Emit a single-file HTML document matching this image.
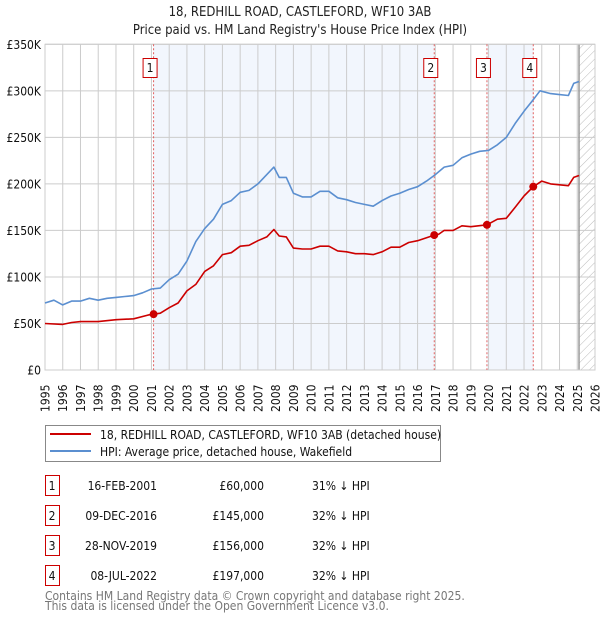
<!DOCTYPE html>
<html><head><meta charset="utf-8">
<style>
body{margin:0;background:#fff;font-family:"DejaVu Sans Condensed","DejaVu Sans","Liberation Sans",sans-serif;}
svg text{font-family:"DejaVu Sans Condensed","DejaVu Sans","Liberation Sans",sans-serif;font-stretch:condensed;}
</style></head>
<body>
<svg id="chart" width="600" height="620" viewBox="0 0 600 620" xmlns="http://www.w3.org/2000/svg">
<defs>
<pattern id="hatch" width="6" height="6" patternUnits="userSpaceOnUse" patternTransform="rotate(45)">
<line x1="0" y1="0" x2="0" y2="6" stroke="#bbb" stroke-width="1"/>
</pattern>
</defs>
<text x="300" y="16" text-anchor="middle" font-size="13" fill="#222">18, REDHILL ROAD, CASTLEFORD, WF10 3AB</text>
<text x="300" y="34" text-anchor="middle" font-size="13" fill="#222">Price paid vs. HM Land Registry's House Price Index (HPI)</text>
<g id="plot"></g>
<g id="legend">
<rect x="45.5" y="425.5" width="395" height="36" fill="#fff" stroke="#888"/>
<line x1="50" y1="434" x2="91" y2="434" stroke="#cc0000" stroke-width="2"/>
<text x="100" y="439" font-size="12" fill="#111">18, REDHILL ROAD, CASTLEFORD, WF10 3AB (detached house)</text>
<line x1="50" y1="451" x2="91" y2="451" stroke="#5b8fd0" stroke-width="2"/>
<text x="100" y="456" font-size="12" fill="#111">HPI: Average price, detached house, Wakefield</text>
</g>
<g id="table"></g>
<text x="45" y="600" font-size="12" fill="#777">Contains HM Land Registry data © Crown copyright and database right 2025.</text>
<text x="45" y="610" font-size="12" fill="#777">This data is licensed under the Open Government Licence v3.0.</text>
</svg>
<script>
const hpiYears=[1995,1995.5,1996,1996.5,1997,1997.5,1998,1998.5,1999,1999.5,2000,2000.5,2001,2001.5,2002,2002.5,2003,2003.5,2004,2004.5,2005,2005.5,2006,2006.5,2007,2007.5,2007.9,2008.2,2008.6,2009,2009.5,2010,2010.5,2011,2011.5,2012,2012.5,2013,2013.5,2014,2014.5,2015,2015.5,2016,2016.5,2017,2017.5,2018,2018.5,2019,2019.5,2020,2020.5,2021,2021.5,2022,2022.5,2022.9,2023.5,2024,2024.5,2024.8,2025.1];
const hpiValues=[72,75,70,74,74,77,75,77,78,79,80,83,87,88,97,103,117,138,152,162,178,182,191,193,200,210,218,207,207,190,186,186,192,192,185,183,180,178,176,182,187,190,194,197,203,210,218,220,228,232,235,236,242,250,265,278,290,300,297,296,295,308,310];
const propYears=[1995,1996,1996.5,1997,1998,1999,2000,2000.8,2001.12,2001.5,2002,2002.5,2003,2003.5,2004,2004.5,2005,2005.5,2006,2006.5,2007,2007.5,2007.9,2008.2,2008.6,2009,2009.5,2010,2010.5,2011,2011.5,2012,2012.5,2013,2013.5,2014,2014.5,2015,2015.5,2016,2016.94,2017.2,2017.5,2018,2018.5,2019,2019.91,2020.5,2021,2021.5,2022,2022.52,2023,2023.5,2024,2024.5,2024.8,2025.1];
const propValues=[50,49,51,52,52,54,55,59,60,61,67,72,85,92,106,112,124,126,133,134,139,143,151,144,143,131,130,130,133,133,128,127,125,125,124,127,132,132,137,139,145,146,150,150,155,154,156,162,163,175,187,197,203,200,199,198,207,209];
const saleLabels=["1","2","3","4"];
const saleYears=[2001.12,2016.94,2019.91,2022.52];
const saleValues=[60,145,156,197];
const saleDates=["16-FEB-2001","09-DEC-2016","28-NOV-2019","08-JUL-2022"];
const salePrices=["£60,000","£145,000","£156,000","£197,000"];
const saleDiffs=["31% ↓ HPI","32% ↓ HPI","32% ↓ HPI","32% ↓ HPI"];
const yTicks=[0,50,100,150,200,250,300,350];
const yTickLabels=["£0","£50K","£100K","£150K","£200K","£250K","£300K","£350K"];
const xTicks=[1995,1996,1997,1998,1999,2000,2001,2002,2003,2004,2005,2006,2007,2008,2009,2010,2011,2012,2013,2014,2015,2016,2017,2018,2019,2020,2021,2022,2023,2024,2025,2026];
const dataEnd=2025.1;

const NS="http://www.w3.org/2000/svg";
const L=45,R=595,T=44.3,B=370;
const x=y=>L+(y-1995)/(2026-1995)*(R-L);
const yv=v=>B-v/350*(B-T);
const plot=document.getElementById('plot');
function mk(tag,attrs,parent){const e=document.createElementNS(NS,tag);for(const k in attrs)e.setAttribute(k,attrs[k]);(parent||plot).appendChild(e);return e;}

for(let i=0;i<saleYears.length;i+=2){
  const x1=x(saleYears[i]),x2=i+1<saleYears.length?x(saleYears[i+1]):R;
  const b=mk('rect',{x:x1,y:T,width:x2-x1,height:B-T,fill:'#eef3fc',opacity:0.75});
  
  
}
const h=mk('rect',{x:x(dataEnd),y:T,width:R-x(dataEnd),height:B-T,fill:'url(#hatch)'});


xTicks.forEach(t=>{const g=mk('line',{x1:x(t),x2:x(t),y1:T,y2:B,stroke:'#ccc','stroke-width':1});


const lb=mk('text',{x:0,y:0,transform:`translate(${x(t)+4.5},${B+42}) rotate(-90)`,'font-size':12,fill:'#111'});
lb.textContent=t;

});
yTicks.forEach((t,i)=>{const g=mk('line',{x1:L,x2:R,y1:yv(t),y2:yv(t),stroke:'#ccc','stroke-width':1});


const lb=mk('text',{x:41,y:yv(t)+4.5,'text-anchor':'end','font-size':12,fill:'#111'});
lb.textContent=yTickLabels[i];

});
const dl=mk('line',{x1:x(dataEnd),x2:x(dataEnd),y1:T,y2:B,stroke:'#999','stroke-width':1.5});


const fr=mk('rect',{x:L,y:T,width:R-L,height:B-T,fill:'none',stroke:'#ccc'});


saleYears.forEach((s,i)=>{
  const v=mk('line',{x1:x(s),x2:x(s),y1:T,y2:B,stroke:'#e06060','stroke-width':1,'stroke-dasharray':'2,2'});
  
  
  const bx=mk('rect',{x:x(s)-10.5,y:58.5,width:14,height:19,fill:'#fff',stroke:'#cc0000'});
  
  
  const t=mk('text',{x:x(s)-3.5,y:72,'text-anchor':'middle','font-size':12,fill:'#111'});
  t.textContent=saleLabels[i];
  
  
});
function line(xs,vs,color,name){
  const d=xs.map((a,i)=>(i?'L':'M')+x(a).toFixed(1)+','+yv(vs[i]).toFixed(1)).join('');
  const p=mk('path',{d:d,fill:'none',stroke:color,'stroke-width':1.6,'stroke-linejoin':'round'});
  
  
}
line(hpiYears,hpiValues,'#5b8fd0','hpi-line');
line(propYears,propValues,'#cc0000','property-price-line');
saleYears.forEach((s,i)=>{
  const c=mk('circle',{cx:x(s),cy:yv(saleValues[i]),r:4,fill:'#cc0000'});
  
  
});
const tbl=document.getElementById('table');
saleLabels.forEach((lab,i)=>{
  const y0=475+i*30;
  const r=mk('rect',{x:45.5,y:y0+0.5,width:14,height:20,fill:'#fff',stroke:'#cc0000'},tbl);
  
  
  const vals=[[lab,52,'middle'],[saleDates[i],157,'end'],[salePrices[i],264,'end'],[saleDiffs[i],312,'start']];
  const names=['table-row-number','table-row-date','table-row-price','table-row-hpi-diff'];
  vals.forEach((v,j)=>{const t=mk('text',{x:v[1],y:y0+15,'text-anchor':v[2],'font-size':12,fill:'#111'},tbl);
  t.textContent=v[0];
  
  });
});
</script>
</body></html>
